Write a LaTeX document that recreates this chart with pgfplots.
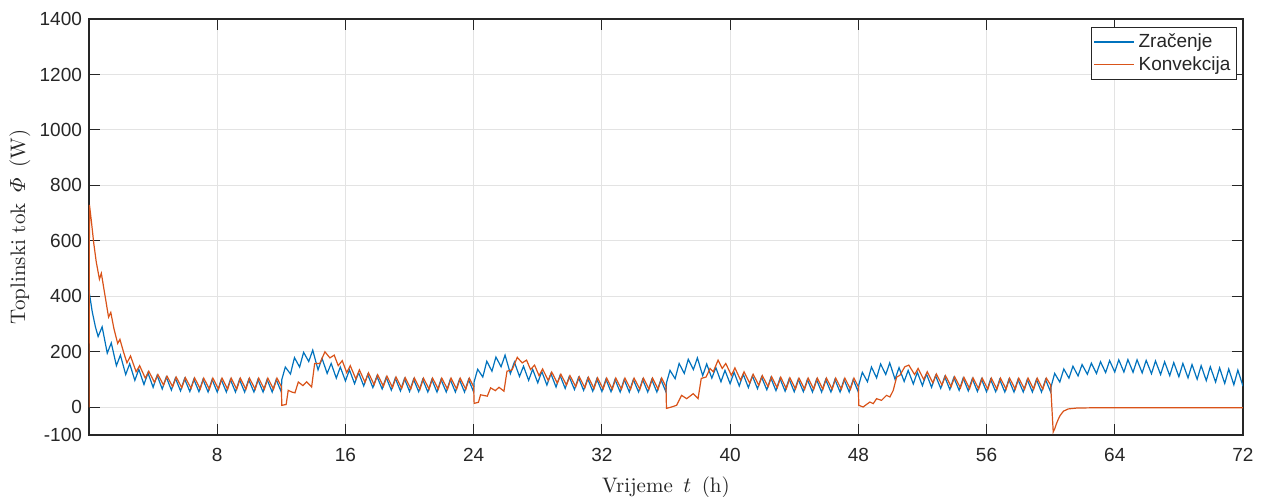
\documentclass[border=0pt]{standalone}
\usepackage{amsmath}
\usepackage{fontspec}
\usepackage{pgfplots}
\pgfplotsset{compat=1.18}
\newfontfamily\arialf{Liberation Sans}
\definecolor{mblue}{RGB}{0,114,189}
\definecolor{morange}{RGB}{217,83,25}
\definecolor{axgray}{RGB}{38,38,38}
\begin{document}
\begin{tikzpicture}
\useasboundingbox (-44.5pt,-31pt) rectangle (590pt,217.5pt);
\begin{axis}[
  at={(0pt,0pt)}, anchor=south west,
  scale only axis, width=577pt, height=208pt,
  xmin=0, xmax=72, ymin=-100, ymax=1400,
  xtick={8,16,24,32,40,48,56,64,72},
  xticklabels={8,16,24,32,40,48,56,64,72},
  ytick={-100,0,200,400,600,800,1000,1200,1400},
  yticklabels={-100,0,200,400,600,800,1000,1200,1400},
  tick pos=both, tick align=inside, major tick length=5.5pt,
  tick style={axgray, line width=0.5pt},
  axis line style={axgray, line width=0.6pt},
  xmajorgrids, ymajorgrids,
  grid style={black!11, line width=0.5pt},
  ticklabel style={font=\arialf\fontsize{9.5}{11}\selectfont, text=axgray},
  xticklabel style={yshift=-3pt},
  xlabel={Vrijeme\enspace$t$\enspace(h)},
  ylabel={Toplinski tok\enspace$\varPhi$\enspace(W)},
  label style={font=\fontsize{10.5}{12}\selectfont, text=axgray},
  xlabel style={at={(axis description cs:0.5,-0.125)}, anchor=center},
  ylabel style={at={(axis description cs:-0.0598,0.5)}, anchor=center},
  legend style={at={(axis description cs:1,1)}, anchor=north east,
    xshift=-3pt, yshift=-4pt, draw=axgray, line width=0.5pt,
    font=\arialf\fontsize{9.5}{11}\selectfont, text=axgray,
    inner sep=1pt, row sep=-1pt, cells={anchor=west}},
  legend image code/.code={\draw[#1, line width=0.6pt] (-2pt,0pt) -- (18pt,0pt);},
]
\addplot[mblue, line width=0.6pt] coordinates {
(0,420)(0.2,345)(0.4,290)(0.57,255)(0.82,290)(1.14,195)(1.39,232)(1.71,150)(1.96,188)(2.29,118)(2.54,157)(2.86,97)(3.11,137)(3.43,82)(3.68,124)(4.00,72)(4.25,115)(4.57,66)(4.82,109)(5.14,62)(5.39,105)(5.71,59)(5.96,103)(6.29,57)(6.54,101)(6.86,56)(7.11,100)
(7.43,55)(7.68,100)(8.00,55)(8.25,100)(8.57,55)(8.82,100)(9.14,55)(9.39,100)(9.71,55)(9.96,100)(10.29,55)(10.54,100)(10.86,55)(11.11,100)(11.43,55)(11.68,100)
(12.00,55)(12.03,100)(12.25,145)(12.57,120)(12.82,179)(13.14,145)(13.39,198)(13.71,165)(13.96,206)(14.29,135)(14.54,176)(14.86,122)(15.11,158)(15.43,105)(15.68,145)(16.00,95)(16.25,135)(16.57,85)(16.82,125)(17.14,77)(17.39,118)(17.71,71)(17.96,112)(18.29,66)(18.54,108)(18.86,62)(19.11,105)(19.43,59)(19.68,103)(20.00,57)(20.25,101)(20.57,56)(20.82,100)
(21.14,55)(21.39,100)(21.71,55)(21.96,100)(22.29,55)(22.54,100)(22.86,55)(23.11,100)(23.43,55)(23.68,100)
(24.00,55)(24.03,92)(24.25,137)(24.57,109)(24.82,166)(25.14,130)(25.39,181)(25.71,146)(25.96,188)(26.29,121)(26.54,163)(26.86,111)(27.11,148)(27.43,97)(27.68,137)(28.00,88)(28.25,129)(28.57,80)(28.82,121)(29.14,73)(29.39,115)(29.71,68)(29.96,110)(30.29,64)(30.54,107)(30.86,61)(31.11,104)(31.43,58)(31.68,102)(32.00,57)(32.25,101)(32.57,56)(32.82,100)
(33.14,55)(33.39,100)(33.71,55)(33.96,100)(34.29,55)(34.54,100)(34.86,55)(35.11,100)(35.43,55)(35.68,100)
(36.00,55)(36.03,88)(36.25,133)(36.57,103)(36.82,158)(37.14,122)(37.39,173)(37.71,136)(37.96,178)(38.29,114)(38.54,156)(38.86,105)(39.11,143)(39.43,92)(39.68,133)(40.00,85)(40.25,126)(40.57,77)(40.82,119)(41.14,71)(41.39,113)(41.71,67)(41.96,109)(42.29,63)(42.54,106)(42.86,60)(43.11,104)(43.43,58)(43.68,102)(44.00,56)(44.25,101)(44.57,56)(44.82,100)
(45.14,55)(45.39,100)(45.71,55)(45.96,100)(46.29,55)(46.54,100)(46.86,55)(47.11,100)(47.43,55)(47.68,100)
(48.00,55)(48.03,81)(48.25,126)(48.57,92)(48.82,145)(49.14,106)(49.39,156)(49.71,118)(49.96,160)(50.29,101)(50.54,143)(50.86,93)(51.11,133)(51.43,84)(51.68,126)(52.00,78)(52.25,120)(52.57,72)(52.82,114)(53.14,68)(53.39,110)(53.71,64)(53.96,107)(54.29,61)(54.54,105)(54.86,59)(55.11,103)(55.43,57)(55.68,102)(56.00,56)(56.25,101)(56.57,56)(56.82,100)
(57.14,55)(57.39,100)(57.71,55)(57.96,100)(58.29,55)(58.54,100)(58.86,55)(59.11,100)(59.43,55)(59.68,100)
(60.00,55)(60.03,75)(60.25,122)(60.57,91)(60.82,138)(61.14,105)(61.39,148)(61.71,113)(61.96,154)(62.29,119)(62.54,159)(62.86,122)(63.11,164)(63.43,125)(63.68,168)(64.00,127)(64.25,171)(64.57,127)(64.82,172)(65.14,126)(65.39,171)(65.71,124)(65.96,169)(66.29,121)(66.54,167)(66.86,118)(67.11,164)(67.43,114)(67.68,161)(68.00,110)(68.25,158)(68.57,106)(68.82,154)(69.14,101)(69.39,150)(69.71,96)(69.96,146)(70.29,91)(70.54,142)(70.86,86)(71.11,138)(71.43,81)(71.68,134)(72.00,76)
};
\addlegendentry{Zračenje}
\addplot[morange, line width=0.6pt] coordinates {
(0,0)(0.03,730)(0.15,670)(0.3,590)(0.45,525)(0.65,462)(0.77,483)(0.95,420)(1.22,325)(1.36,342)(1.55,285)(1.79,230)(1.93,245)(2.15,200)(2.37,160)(2.59,185)(2.94,128)(3.16,150)(3.51,105)(3.73,130)(4.08,90)(4.30,118)(4.65,80)(4.87,112)(5.22,74)(5.44,109)(5.79,70)(6.01,107)(6.37,68)(6.59,106)(6.94,66)(7.16,105)
(7.51,65)(7.73,105)(8.08,65)(8.30,105)(8.65,65)(8.87,105)(9.22,65)(9.44,105)(9.79,65)(10.01,105)(10.37,65)(10.59,105)(10.94,65)(11.16,105)(11.51,65)(11.73,105)
(12.00,75)(12.03,7)(12.30,10)(12.43,61)(12.65,55)(12.85,52)(13.06,91)(13.35,78)(13.58,92)(13.89,73)(14.08,158)(14.40,158)(14.72,200)(15.03,178)(15.30,188)(15.55,150)(15.80,168)(16.08,125)(16.30,150)(16.65,102)(16.87,135)(17.22,90)(17.44,124)(17.79,81)(18.01,117)(18.37,75)(18.59,112)(18.94,71)(19.16,109)(19.51,68)(19.73,107)(20.08,66)(20.30,106)(20.65,65)(20.87,105)
(21.22,65)(21.44,105)(21.79,65)(22.01,105)(22.37,65)(22.59,105)(22.94,65)(23.16,105)(23.51,65)(23.73,105)
(24.00,74)(24.03,14)(24.30,18)(24.43,45)(24.85,40)(25.06,70)(25.35,60)(25.58,72)(25.89,58)(26.08,130)(26.40,135)(26.72,180)(27.03,160)(27.30,170)(27.55,136)(27.80,152)(28.08,114)(28.30,138)(28.65,97)(28.87,127)(29.22,87)(29.44,119)(29.79,80)(30.01,114)(30.37,74)(30.59,110)(30.94,70)(31.16,108)(31.51,67)(31.73,106)(32.08,66)(32.30,105)(32.65,65)(32.87,105)
(33.22,65)(33.44,105)(33.79,65)(34.01,105)(34.37,65)(34.59,105)(34.94,65)(35.16,105)(35.51,65)(35.73,105)
(36.00,74)(36.03,-4)(36.35,1)(36.66,7)(36.97,43)(37.29,31)(37.70,49)(38.00,31)(38.20,104)(38.50,109)(38.75,140)(38.95,128)(39.25,170)(39.51,140)(39.73,158)(40.08,115)(40.30,142)(40.65,98)(40.87,128)(41.22,87)(41.44,119)(41.79,79)(42.01,114)(42.37,74)(42.59,110)(42.94,70)(43.16,108)(43.51,67)(43.73,106)(44.08,66)(44.30,105)(44.65,65)(44.87,105)
(45.22,65)(45.44,105)(45.79,65)(46.01,105)(46.37,65)(46.59,105)(46.94,65)(47.16,105)(47.51,65)(47.73,105)
(48.00,74)(48.03,7)(48.30,1)(48.72,19)(48.93,13)(49.14,31)(49.45,25)(49.76,43)(49.97,37)(50.18,61)(50.39,109)(50.59,115)(50.90,146)(51.15,152)(51.51,118)(51.73,140)(52.08,100)(52.30,128)(52.65,88)(52.87,120)(53.22,80)(53.44,114)(53.79,74)(54.01,110)(54.37,70)(54.59,108)(54.94,67)(55.16,106)(55.51,66)(55.73,105)
(56.08,65)(56.30,105)(56.65,65)(56.87,105)(57.22,65)(57.44,105)(57.79,65)(58.01,105)(58.37,65)(58.59,105)(58.94,65)(59.16,105)(59.51,65)(59.73,105)
(60.00,80)(60.16,-89)(60.25,-78)(60.37,-58)(60.50,-40)(60.60,-29)(60.80,-14)(61.10,-6)(61.60,-3)(62.50,-2)(72,-2)
};
\addlegendentry{Konvekcija}
\end{axis}
\end{tikzpicture}
\end{document}
